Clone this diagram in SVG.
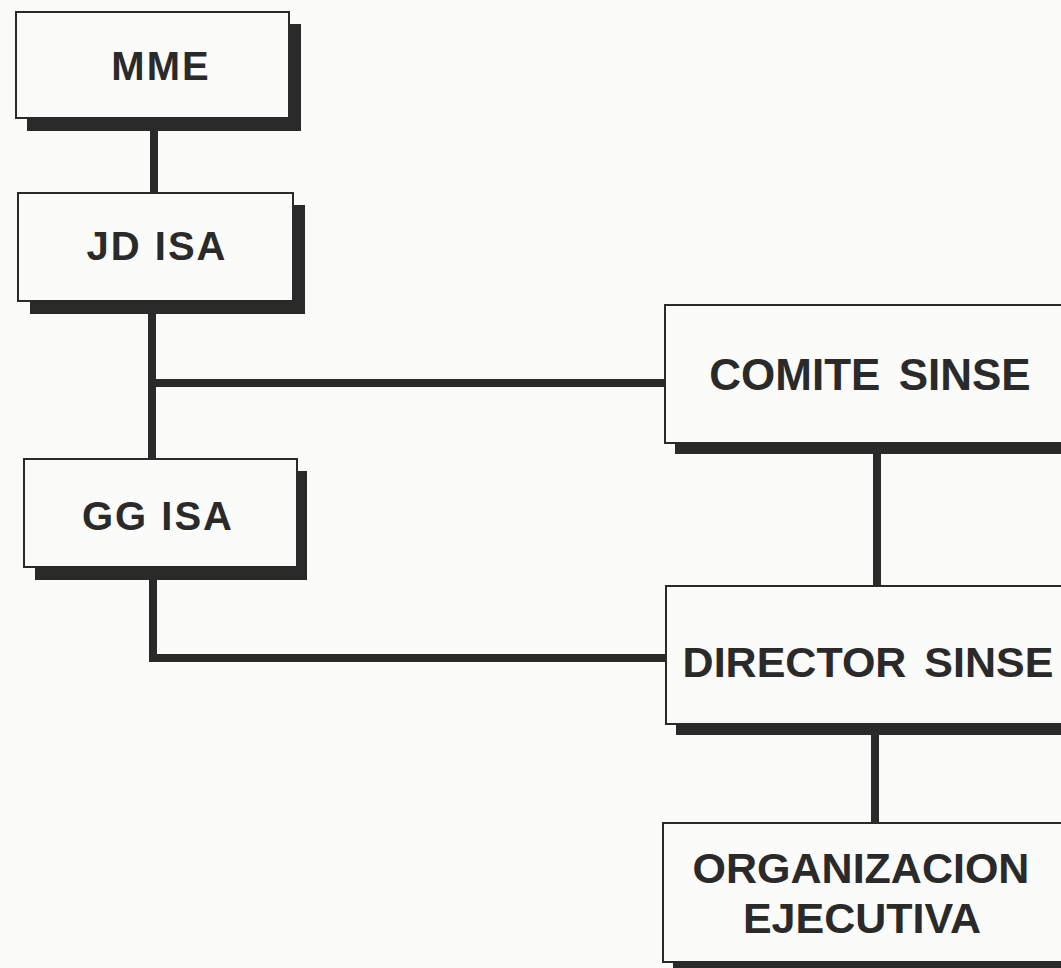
<svg xmlns="http://www.w3.org/2000/svg" width="1061" height="968" viewBox="0 0 1061 968">
<style>
.box{fill:#fbfbfa;stroke:#2a2a2a;stroke-width:2}
.shadow{fill:#2a2a2a}
.lbl{font-family:"Liberation Sans",Arial,sans-serif;font-weight:bold;fill:#2a2a2a;text-anchor:middle}
.sm{font-size:40px;letter-spacing:2px}
.con{fill:none;stroke:#2a2a2a;stroke-width:8}
</style>
<rect width="1061" height="968" fill="#fbfbfa"/>
<g id="connectors">
<line class="con" x1="154" y1="130" x2="154" y2="194"/>
<line class="con" x1="152" y1="313" x2="152" y2="460"/>
<line class="con" x1="152" y1="383" x2="666" y2="383"/>
<polyline class="con" points="153,580 153,658 667,658"/>
<line class="con" x1="877" y1="453" x2="877" y2="587"/>
<line class="con" x1="875" y1="734" x2="875" y2="824"/>
</g>
<g id="mme">
<rect class="shadow" x="27" y="24" width="274" height="107"/>
<rect class="box" x="16" y="12" width="273" height="106"/>
<text class="lbl sm" x="161" y="80">MME</text>
</g>
<g id="jdisa">
<rect class="shadow" x="30" y="205" width="275" height="109"/>
<rect class="box" x="18" y="193" width="275" height="108"/>
<text class="lbl sm" x="157" y="260">JD ISA</text>
</g>
<g id="ggisa">
<rect class="shadow" x="35" y="471" width="272" height="109"/>
<rect class="box" x="24" y="459" width="273" height="108"/>
<text class="lbl sm" x="158" y="530">GG ISA</text>
</g>
<g id="comite">
<rect class="shadow" x="675" y="317" width="420" height="137"/>
<rect class="box" x="665" y="305" width="420" height="138"/>
<text class="lbl" x="870" y="390" font-size="44" word-spacing="6">COMITE SINSE</text>
</g>
<g id="director">
<rect class="shadow" x="676" y="598" width="420" height="137"/>
<rect class="box" x="666" y="586" width="420" height="138"/>
<text class="lbl" x="868" y="677" font-size="43" word-spacing="6">DIRECTOR SINSE</text>
</g>
<g id="organizacion">
<rect class="shadow" x="673" y="835" width="420" height="140"/>
<rect class="box" x="663" y="823" width="420" height="139"/>
<text class="lbl" x="861" y="883" font-size="43">ORGANIZACION</text>
<text class="lbl" x="862" y="933" font-size="43">EJECUTIVA</text>
</g>
</svg>
